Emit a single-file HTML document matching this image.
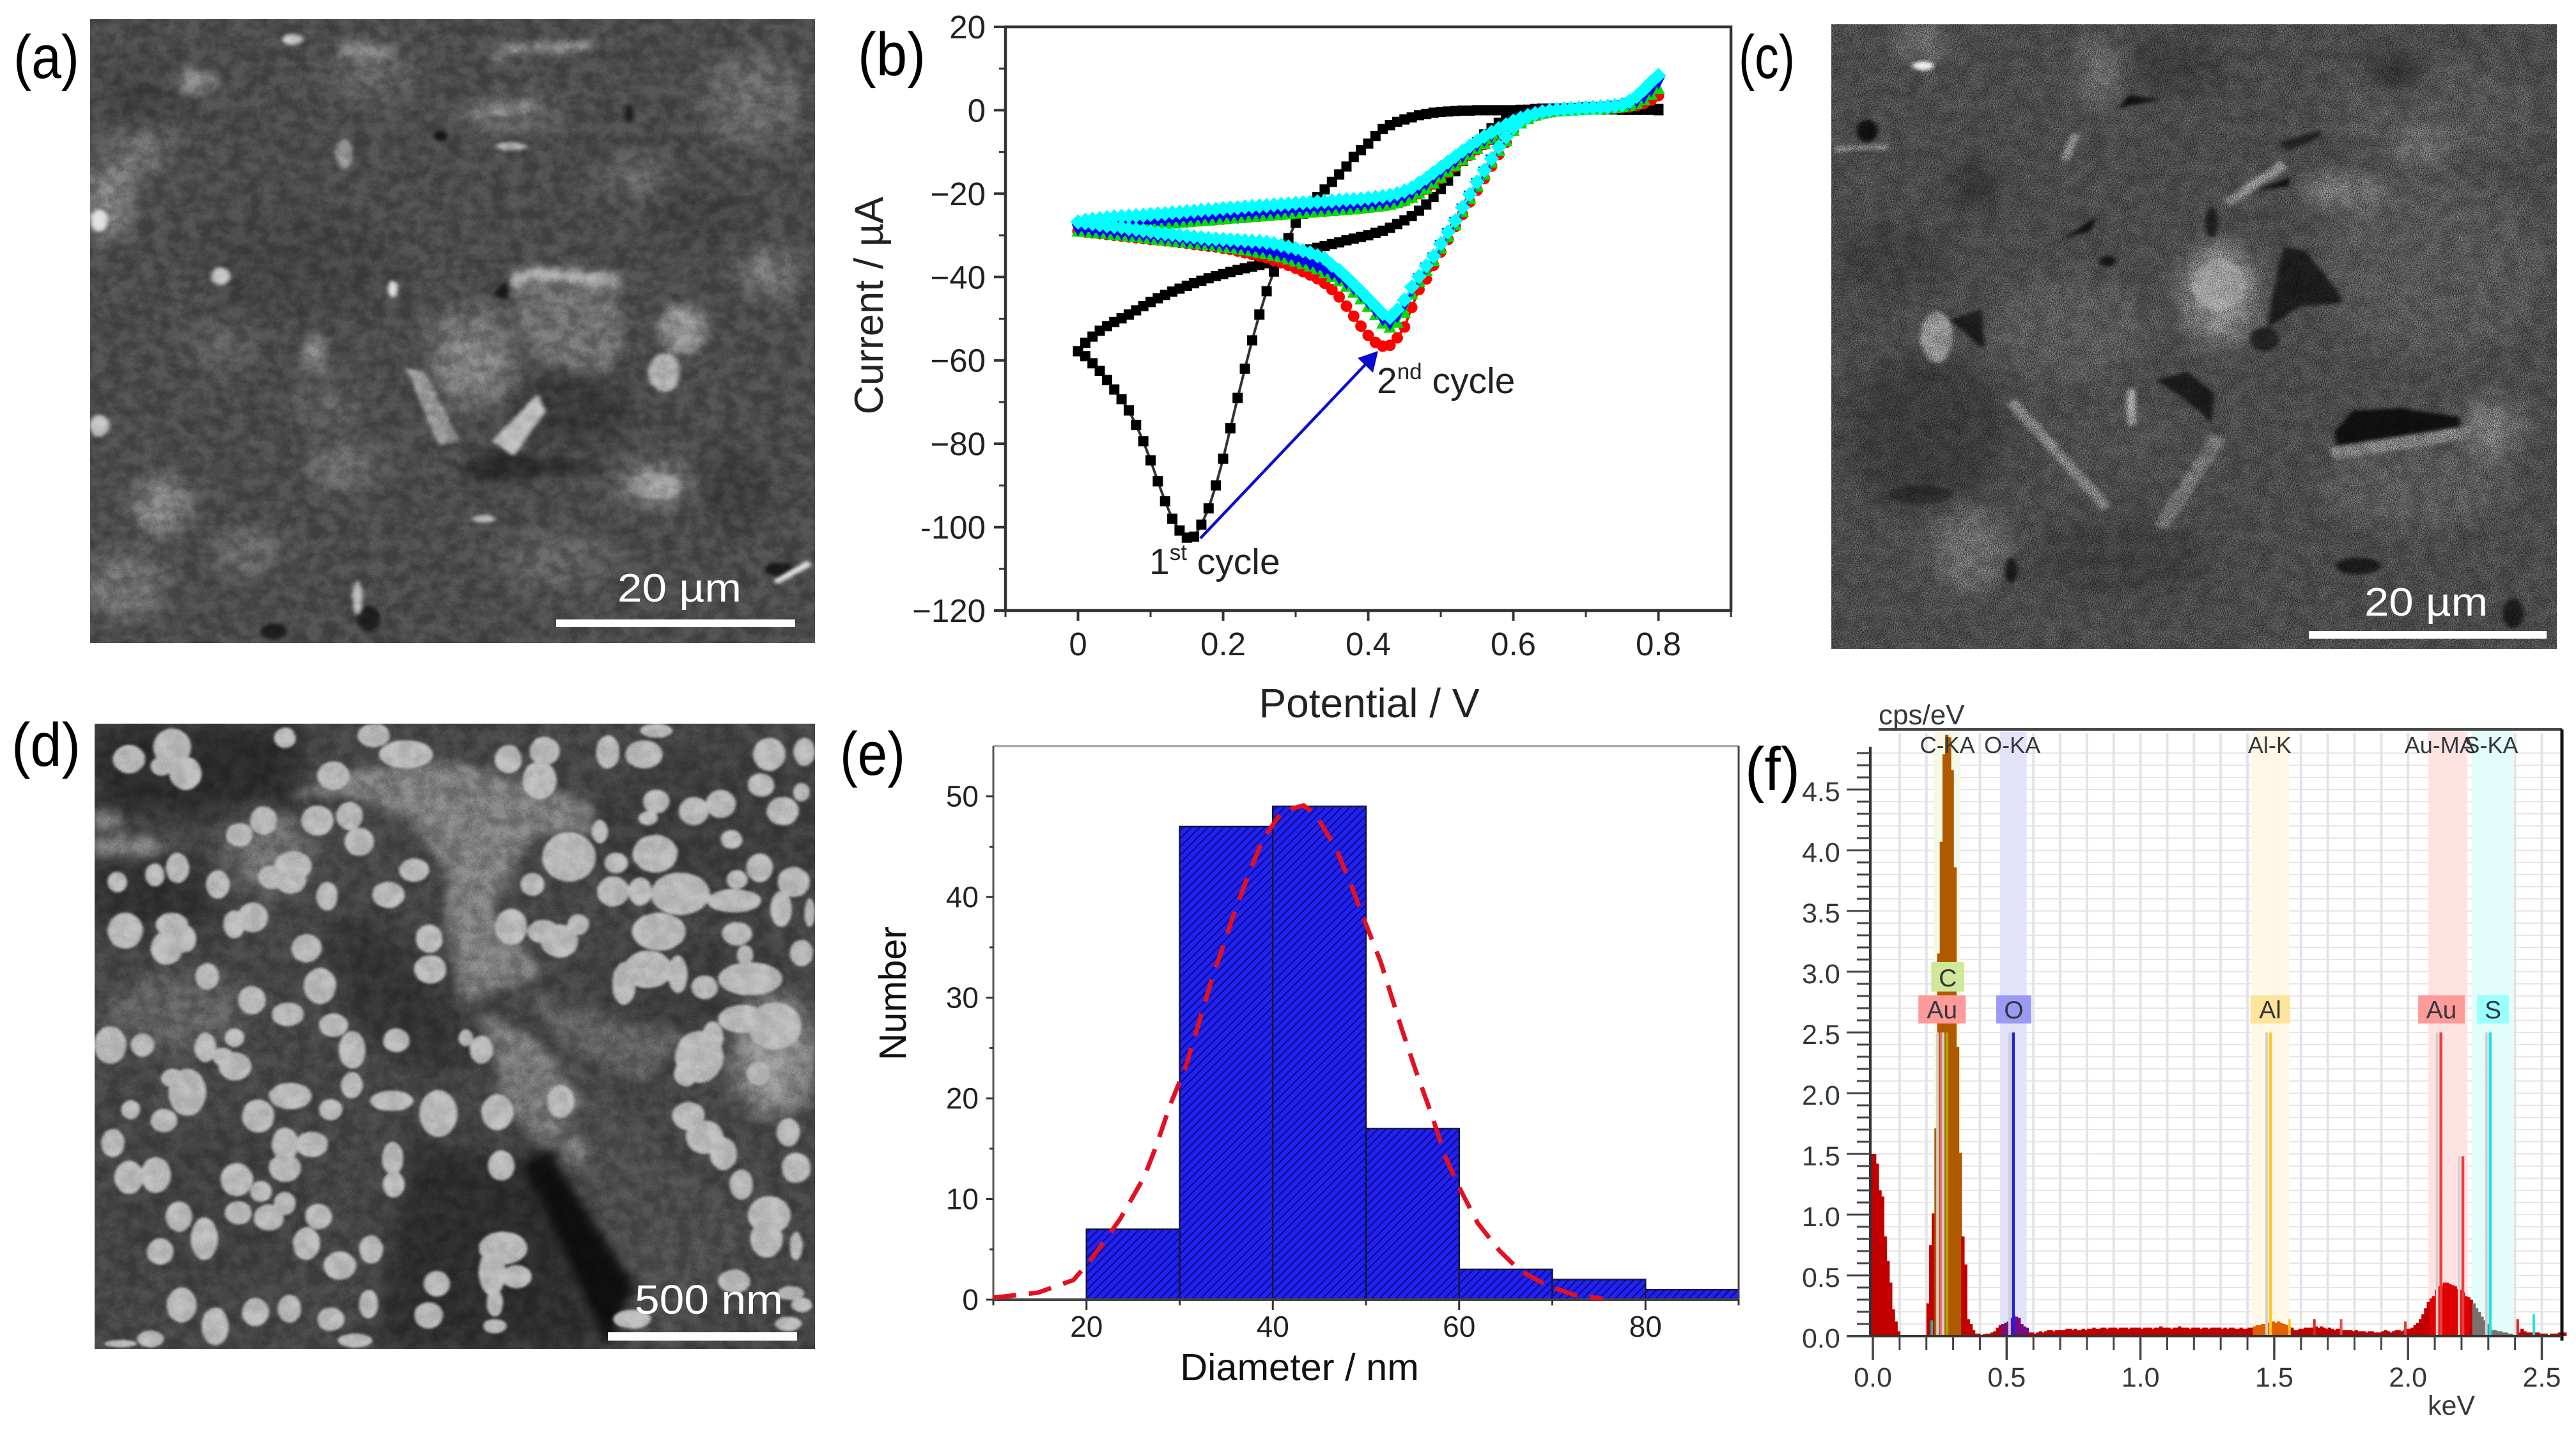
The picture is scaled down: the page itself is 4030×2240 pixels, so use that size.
<!DOCTYPE html>
<html lang="en">
<head>
<meta charset="utf-8">
<title>Electrode characterisation figure</title>
<style>
html,body{margin:0;padding:0;background:#fff;width:4030px;height:2240px;overflow:hidden}
svg text{font-family:"Liberation Sans",sans-serif}
</style>
</head>
<body>
<svg id="fig" xmlns="http://www.w3.org/2000/svg" width="4030" height="2240" viewBox="0 0 4030 2240">
<defs>
<filter id="blurBig" color-interpolation-filters="sRGB" x="-10%" y="-10%" width="120%" height="120%"><feGaussianBlur stdDeviation="24"/></filter>
<filter id="blurMid" color-interpolation-filters="sRGB" x="-10%" y="-10%" width="120%" height="120%"><feGaussianBlur stdDeviation="10"/></filter>
<filter id="blurDetail" color-interpolation-filters="sRGB" x="-10%" y="-10%" width="120%" height="120%"><feGaussianBlur stdDeviation="4"/></filter>
<filter id="blurSmall" color-interpolation-filters="sRGB" x="-10%" y="-10%" width="120%" height="120%"><feGaussianBlur stdDeviation="2.4"/></filter>
<filter id="noiseFine" color-interpolation-filters="sRGB" x="0" y="0" width="100%" height="100%"><feTurbulence type="fractalNoise" baseFrequency=".55" numOctaves="2" seed="4"/><feColorMatrix type="matrix" values="0 0 0 2.4 -.7 0 0 0 2.4 -.7 0 0 0 2.4 -.7 0 0 0 0 1"/></filter>
<filter id="noiseSoft" color-interpolation-filters="sRGB" x="0" y="0" width="100%" height="100%"><feTurbulence type="fractalNoise" baseFrequency=".035" numOctaves="4" seed="9"/><feColorMatrix type="matrix" values="0 0 0 2.4 -.7 0 0 0 2.4 -.7 0 0 0 2.4 -.7 0 0 0 0 1"/></filter>
<pattern id="hatch" width="9" height="9" patternUnits="userSpaceOnUse" patternTransform="rotate(45)">
<rect width="9" height="9" fill="#2222f2"/><rect width="2.4" height="9" fill="#0d0d95"/>
</pattern>
</defs>

<!-- (a) SEM -->
<svg id="semA" x="141" y="30" width="1134" height="976" viewBox="168 45 1347 1457" preserveAspectRatio="none">
<rect x="168" y="45" width="1347" height="1457" fill="#4a4a4a"/>
<g filter="url(#blurBig)">
<ellipse cx="1400" cy="230" rx="90" ry="105" fill="#666"/><ellipse cx="690" cy="170" rx="80" ry="80" fill="#5e5e5e"/>
<ellipse cx="260" cy="340" rx="55" ry="75" fill="#707070"/><ellipse cx="200" cy="470" rx="40" ry="90" fill="#848484"/>
<ellipse cx="230" cy="1370" rx="80" ry="80" fill="#6d6d6d"/><ellipse cx="300" cy="1180" rx="50" ry="65" fill="#8a8a8a"/>
<ellipse cx="1040" cy="1310" rx="110" ry="70" fill="#5e5e5e"/><ellipse cx="460" cy="1290" rx="65" ry="55" fill="#686868"/>
<ellipse cx="1060" cy="960" rx="120" ry="80" fill="#383838"/><ellipse cx="640" cy="1090" rx="70" ry="55" fill="#6a6a6a"/>
<ellipse cx="410" cy="810" rx="55" ry="55" fill="#606060"/><ellipse cx="1180" cy="410" rx="55" ry="45" fill="#686868"/>
<ellipse cx="1430" cy="640" rx="45" ry="55" fill="#7c7c7c"/><ellipse cx="610" cy="945" rx="55" ry="42" fill="#636363"/>
<ellipse cx="950" cy="265" rx="90" ry="40" fill="#696969"/><ellipse cx="1220" cy="1130" rx="70" ry="50" fill="#808080"/>
<ellipse cx="875" cy="770" rx="80" ry="50" fill="#6e6e6e"/><ellipse cx="880" cy="860" rx="75" ry="90" fill="#7e7e7e"/>
<ellipse cx="1360" cy="1140" rx="70" ry="90" fill="#3d3d3d"/><ellipse cx="560" cy="620" rx="180" ry="120" fill="#434343"/>
<ellipse cx="260" cy="240" rx="60" ry="70" fill="#3e3e3e"/><ellipse cx="1300" cy="500" rx="80" ry="70" fill="#414141"/>
</g>
<g filter="url(#blurMid)">
<polygon points="945,650 1000,625 1060,635 1150,645 1160,800 1130,870 1000,850 970,780" fill="#6d6d6d"/>
<polyline points="948,660 1000,635 1060,645 1150,655" fill="none" stroke="#b4b4b4" stroke-width="26"/>
<ellipse cx="1270" cy="770" rx="45" ry="60" fill="#8e8e8e"/>
<ellipse cx="585" cy="830" rx="25" ry="50" fill="#7c7c7c"/>
<polyline points="915,130 950,118 1100,108" fill="none" stroke="#909090" stroke-width="22"/>
<ellipse cx="680" cy="118" rx="45" ry="18" fill="#8c8c8c"/>
<polygon points="850,1100 900,1050 1140,1090 900,1130" fill="#2c2c2c"/>
<polyline points="870,265 960,260 995,245" fill="none" stroke="#8a8a8a" stroke-width="18"/>
<ellipse cx="365" cy="190" rx="42" ry="30" fill="#7d7d7d"/>
</g>
<g filter="url(#blurDetail)">
<polygon points="915,1030 1000,920 1015,960 955,1065" fill="#bcbcbc"/>
<polygon points="755,860 790,870 855,1030 815,1040" fill="#959595"/>
<ellipse cx="1235" cy="870" rx="30" ry="45" fill="#acacac"/>
<ellipse cx="1220" cy="1135" rx="50" ry="30" fill="#999"/>
<polygon points="915,690 945,650 945,700" fill="#1a1a1a"/>
<ellipse cx="510" cy="1475" rx="25" ry="18" fill="#1d1d1d"/><ellipse cx="685" cy="1445" rx="22" ry="30" fill="#1d1d1d"/>
<ellipse cx="1450" cy="1330" rx="28" ry="16" fill="#1b1b1b"/><ellipse cx="820" cy="318" rx="12" ry="12" fill="#161616"/>
<line x1="1440" y1="1360" x2="1505" y2="1315" stroke="#e4e4e4" stroke-width="12"/>
<ellipse cx="730" cy="675" rx="9" ry="20" fill="#ddd"/><ellipse cx="410" cy="645" rx="18" ry="20" fill="#c4c4c4"/>
<ellipse cx="185" cy="515" rx="16" ry="26" fill="#e0e0e0"/><ellipse cx="665" cy="1395" rx="9" ry="40" fill="#bbb"/>
<ellipse cx="545" cy="92" rx="20" ry="12" fill="#c4c4c4"/><ellipse cx="900" cy="1212" rx="22" ry="9" fill="#bbb"/>
<ellipse cx="185" cy="995" rx="18" ry="26" fill="#c0c0c0"/><ellipse cx="950" cy="342" rx="30" ry="10" fill="#a8a8a8"/>
<ellipse cx="1170" cy="265" rx="8" ry="22" fill="#1e1e1e"/><ellipse cx="640" cy="360" rx="16" ry="34" fill="#8f8f8f"/>
</g>
<rect x="168" y="45" width="1347" height="1457" fill="#808080" filter="url(#noiseSoft)" style="mix-blend-mode:overlay" opacity=".16"/>
<rect x="168" y="45" width="1347" height="1457" fill="#808080" filter="url(#noiseFine)" style="mix-blend-mode:overlay" opacity=".1"/>
</svg>

<!-- (c) SEM -->
<svg id="semC" x="2865" y="38" width="1135" height="977" viewBox="173 56 1359 1446" preserveAspectRatio="none">
<rect x="173" y="56" width="1359" height="1446" fill="#4a4a4a"/>
<g filter="url(#blurBig)">
<ellipse cx="350" cy="1000" rx="150" ry="180" fill="#3b3b3b"/><ellipse cx="800" cy="150" rx="110" ry="65" fill="#3d3d3d"/>
<ellipse cx="280" cy="600" rx="110" ry="85" fill="#3f3f3f"/><ellipse cx="720" cy="1290" rx="170" ry="90" fill="#3f3f3f"/>
<ellipse cx="1300" cy="620" rx="220" ry="210" fill="#555"/><ellipse cx="1270" cy="1130" rx="180" ry="90" fill="#585858"/>
<ellipse cx="1300" cy="250" rx="200" ry="110" fill="#535353"/><ellipse cx="620" cy="760" rx="150" ry="120" fill="#575757"/>
<ellipse cx="720" cy="1010" rx="130" ry="100" fill="#4d4d4d"/><ellipse cx="430" cy="1270" rx="70" ry="100" fill="#686868"/>
<ellipse cx="1130" cy="440" rx="80" ry="35" fill="#787878"/><ellipse cx="1280" cy="340" rx="50" ry="40" fill="#727272"/>
<ellipse cx="900" cy="680" rx="70" ry="120" fill="#848484"/><ellipse cx="680" cy="170" rx="40" ry="90" fill="#686868"/>
<ellipse cx="1410" cy="990" rx="55" ry="70" fill="#747474"/><ellipse cx="340" cy="100" rx="45" ry="50" fill="#6a6a6a"/>
<ellipse cx="1230" cy="170" rx="45" ry="40" fill="#2c2c2c"/><ellipse cx="440" cy="430" rx="40" ry="60" fill="#333"/>
</g>
<g filter="url(#blurDetail)">
<polygon points="1115,1000 1150,950 1240,945 1350,965 1350,990 1260,1005 1180,1030 1120,1030" fill="#0f0f0f"/>
<polygon points="1020,570 1060,580 1120,670 1130,700 1050,710 990,760 1000,680" fill="#1b1b1b"/>
<ellipse cx="985" cy="785" rx="28" ry="28" fill="#222"/>
<polygon points="780,880 840,860 890,910 885,980 860,950 820,910" fill="#1a1a1a"/>
<polygon points="395,740 455,715 460,810" fill="#1c1c1c"/>
<polygon points="710,250 730,220 790,230" fill="#111"/>
<ellipse cx="240" cy="303" rx="20" ry="26" fill="#111"/>
<polygon points="970,440 1030,410 1030,432" fill="#111"/>
<polygon points="610,550 670,500 660,535" fill="#111"/>
<polygon points="1010,330 1090,300 1090,315 1030,350" fill="#222"/>
<ellipse cx="1160" cy="1310" rx="42" ry="20" fill="#1a1a1a"/><ellipse cx="1450" cy="1420" rx="20" ry="34" fill="#1a1a1a"/>
<ellipse cx="510" cy="1320" rx="12" ry="30" fill="#1a1a1a"/><ellipse cx="340" cy="1145" rx="60" ry="22" fill="#2a2a2a"/>
<ellipse cx="885" cy="515" rx="12" ry="35" fill="#1d1d1d"/><ellipse cx="690" cy="605" rx="16" ry="12" fill="#141414"/>
<ellipse cx="345" cy="152" rx="20" ry="10" fill="#eee"/>
<ellipse cx="370" cy="780" rx="30" ry="60" fill="#909090"/>
<ellipse cx="900" cy="660" rx="50" ry="60" fill="#9c9c9c"/>
<line x1="510" y1="930" x2="690" y2="1175" stroke="#7e7e7e" stroke-width="22"/>
<line x1="790" y1="1220" x2="900" y2="1010" stroke="#707070" stroke-width="30"/>
<line x1="1110" y1="1050" x2="1370" y2="1000" stroke="#7e7e7e" stroke-width="30"/>
<line x1="915" y1="470" x2="1020" y2="380" stroke="#8c8c8c" stroke-width="20"/>
<line x1="735" y1="900" x2="735" y2="985" stroke="#a0a0a0" stroke-width="16"/>
<line x1="610" y1="370" x2="630" y2="310" stroke="#8a8a8a" stroke-width="16"/>
<line x1="180" y1="345" x2="280" y2="340" stroke="#808080" stroke-width="12"/>
</g>
<rect x="173" y="56" width="1359" height="1446" fill="#808080" filter="url(#noiseSoft)" style="mix-blend-mode:overlay" opacity=".1"/>
<rect x="173" y="56" width="1359" height="1446" fill="#808080" filter="url(#noiseFine)" style="mix-blend-mode:overlay" opacity=".5"/>
</svg>

<!-- (d) SEM -->
<svg id="semD" x="148" y="1132" width="1127" height="978" viewBox="176 70 1339 1323" preserveAspectRatio="none">
<rect x="176" y="70" width="1339" height="1323" fill="#444"/>
<g filter="url(#blurBig)">
<rect x="176" y="70" width="380" height="190" fill="#2b2b2b"/>
<rect x="176" y="360" width="220" height="140" fill="#2f2f2f"/>
<ellipse cx="1300" cy="620" rx="190" ry="100" fill="#3b3b3b"/><ellipse cx="1320" cy="300" rx="220" ry="170" fill="#3c3c3c"/>
<polygon points="610,500 690,470 850,660 880,800 760,800 640,680" fill="#333"/>
<polygon points="760,950 1000,1000 1120,1393 700,1393" fill="#2c2c2c"/>
<ellipse cx="1440" cy="770" rx="75" ry="130" fill="#909090"/>
<ellipse cx="500" cy="340" rx="80" ry="90" fill="#6e6e6e"/>
<ellipse cx="330" cy="680" rx="130" ry="80" fill="#606060"/>
<ellipse cx="400" cy="1100" rx="170" ry="170" fill="#404040"/>
</g>
<g filter="url(#blurMid)">
<polygon points="540,225 640,170 850,150 1000,200 1100,240 1100,300 1000,300 950,380 920,470 1010,600 860,660 830,500 830,380 760,270 640,220" fill="#7c7c7c"/>
<polygon points="880,660 1050,770 1390,1130 1250,1393 1120,1340 1020,970 940,830" fill="#4b4b4b"/>
<polygon points="900,680 1000,740 1080,870 1020,970 940,880" fill="#767676"/>
<polygon points="975,640 1280,730 1200,830 1060,760" fill="#5f5f5f"/>
<polygon points="970,1000 1020,970 1180,1260 1130,1393" fill="#0e0e0e"/>
<ellipse cx="240" cy="330" rx="70" ry="24" fill="#797979"/>
<ellipse cx="200" cy="275" rx="26" ry="18" fill="#8a8a8a"/>
<ellipse cx="1070" cy="975" rx="22" ry="30" fill="#7c7c7c"/>
</g>
<g id="particles" filter="url(#blurSmall)"></g>
<rect x="176" y="70" width="1339" height="1323" fill="#808080" filter="url(#noiseSoft)" style="mix-blend-mode:overlay" opacity=".14"/>
<rect x="176" y="70" width="1339" height="1323" fill="#808080" filter="url(#noiseFine)" style="mix-blend-mode:overlay" opacity=".12"/>
</svg>

<!-- SEM scale bars and labels -->
<rect x="870" y="969" width="374" height="12" fill="#fff"/>
<text x="966" y="941" font-size="62" fill="#fff" textLength="194" lengthAdjust="spacingAndGlyphs">20 µm</text>
<rect x="3612" y="987" width="372" height="12" fill="#fff"/>
<text x="3699" y="963" font-size="62" fill="#fff" textLength="193" lengthAdjust="spacingAndGlyphs">20 µm</text>
<rect x="951" y="2084" width="296" height="13" fill="#fff"/>
<text x="993" y="2055" font-size="64" fill="#fff" textLength="232" lengthAdjust="spacingAndGlyphs">500 nm</text>

<!-- panel letters -->
<text x="21" y="122" font-size="96" fill="#000" textLength="103" lengthAdjust="spacingAndGlyphs">(a)</text>
<text x="1342" y="118" font-size="96" fill="#000" textLength="106" lengthAdjust="spacingAndGlyphs">(b)</text>
<text x="2720" y="122" font-size="96" fill="#000" textLength="88" lengthAdjust="spacingAndGlyphs">(c)</text>
<text x="18" y="1198" font-size="96" fill="#000" textLength="108" lengthAdjust="spacingAndGlyphs">(d)</text>
<text x="1314" y="1212" font-size="96" fill="#000" textLength="102" lengthAdjust="spacingAndGlyphs">(e)</text>

<g id="chartB"></g>
<g id="chartE"></g>
<g id="chartF"></g>

<text x="2730" y="1236" font-size="96" fill="#000" textLength="86" lengthAdjust="spacingAndGlyphs">(f)</text>
</svg>

<script>
/* ---------- (b) cyclic voltammogram data: current in µA at each potential ---------- */
const potentials = [0,.01,.02,.03,.04,.05,.06,.07,.08,.09,.1,.11,.12,.13,.14,.15,.16,.17,.18,.19,.2,.21,.22,.23,.24,.25,.26,.27,.28,.29,.3,.31,.32,.33,.34,.35,.36,.37,.38,.39,.4,.41,.42,.43,.44,.45,.46,.47,.48,.49,.5,.51,.52,.53,.54,.55,.56,.57,.58,.59,.6,.61,.62,.63,.64,.65,.66,.67,.68,.69,.7,.71,.72,.73,.74,.75,.76,.77,.78,.79,.8];
const blackCathodic = [-57.8,-59,-60.7,-62.5,-64.7,-67,-69.3,-72,-75.5,-79.4,-84,-89,-93.8,-98,-100.8,-102.5,-102.3,-99.4,-95.5,-90,-83.6,-76.3,-69,-62,-55.2,-49,-43.4,-38.7,-34.4,-30.7,-27,-24.8,-22.9,-20.8,-19,-17.2,-15.4,-13.5,-11.2,-9.6,-8,-6.2,-4.5,-3.6,-2.8,-2.2,-1.7,-1.2,-.9,-.6,-.4,-.3,-.2,-.1,-.1,0,0,0,0,0,0,.1,.1,.1,.1,.1,.2,.2,.2,.2,.2,.2,.2,.2,.2,.1,.1,.1,.1,.1,0];
const blackAnodic = [-57.8,-55.8,-54.3,-52.9,-51.8,-50.8,-49.9,-49,-48,-47,-46,-45.1,-44.3,-43.5,-42.8,-42.1,-41.5,-40.9,-40.3,-39.8,-39.3,-38.8,-38.3,-37.9,-37.5,-37.1,-36.7,-36.2,-35.6,-35,-34.4,-33.9,-33.4,-33,-32.6,-32.1,-31.7,-31.2,-30.8,-30.4,-30,-29.4,-28.9,-28.2,-27.3,-26.4,-25.4,-24.1,-22.6,-20.8,-18.9,-16.9,-14.6,-12.2,-9.8,-7.6,-5.8,-4.3,-3,-1.9,-.9,-.3,.1,.3,.4,.4,.4,.4,.4,.4,.4,.4,.4,.4,.4,.3,.3,.3,.3,.3,.3];
const redCathodic = [-29,-29.2,-29.4,-29.6,-29.8,-30,-30.2,-30.4,-30.6,-30.8,-31,-31.1,-31.3,-31.5,-31.7,-31.9,-32.2,-32.4,-32.6,-32.8,-33.1,-33.4,-33.8,-34.2,-34.6,-35,-35.4,-36,-36.6,-37.2,-37.9,-38.7,-39.5,-40.4,-41.5,-43,-44.8,-47,-49.4,-51.8,-54,-55.7,-56.6,-56.4,-54.6,-52,-47.3,-43,-40.5,-37.2,-34,-31,-27.9,-25,-22,-19.2,-16.4,-13.4,-10.6,-7.7,-4.8,-2.8,-1.6,-1,-.6,-.3,-.1,.1,.2,.3,.4,.4,.5,.6,.7,.9,1,1.3,1.8,2.6,3.5];
const redAnodic = [-29,-28.7,-28.5,-28.4,-28.2,-28.1,-28,-27.8,-27.7,-27.6,-27.4,-27.3,-27.2,-27,-26.9,-26.8,-26.6,-26.5,-26.3,-26.2,-26.1,-25.9,-25.8,-25.7,-25.5,-25.4,-25.2,-25.1,-25,-24.8,-24.7,-24.6,-24.4,-24.3,-24.2,-24,-23.9,-23.8,-23.6,-23.5,-23.3,-23.1,-22.9,-22.6,-22.2,-21.7,-21,-20,-18.9,-17.7,-16.3,-14.9,-13.5,-12.1,-10.8,-9.4,-8.2,-7,-5.9,-4.9,-3.9,-2.9,-2,-1.3,-.8,-.5,-.2,0,.1,.2,.3,.3,.4,.4,.5,.6,.8,1.1,1.6,2.4,3.5];
const greenCathodic = [-28.9,-29,-29.2,-29.4,-29.5,-29.7,-29.9,-30.1,-30.3,-30.5,-30.7,-30.9,-31.1,-31.3,-31.5,-31.6,-31.8,-32,-32.2,-32.4,-32.7,-32.9,-33.2,-33.4,-33.7,-34,-34.3,-34.7,-35.1,-35.6,-36.1,-36.7,-37.3,-38,-38.9,-39.8,-40.9,-42.2,-43.6,-45.2,-47,-49,-51,-52,-50.8,-48.4,-44,-41,-38.4,-36,-33,-30.2,-27.4,-24.2,-21.1,-18.1,-15.3,-12.4,-9.6,-7.2,-4.8,-3,-1.9,-1.1,-.6,-.3,-.1,0,.1,.2,.3,.4,.5,.6,.7,.9,1.2,1.7,2.6,3.9,5.3];
const greenAnodic = [-28.9,-28.6,-28.3,-28.2,-28.1,-27.9,-27.8,-27.7,-27.6,-27.5,-27.3,-27.2,-27.1,-27,-26.8,-26.7,-26.5,-26.4,-26.3,-26.1,-26,-25.8,-25.7,-25.6,-25.4,-25.3,-25.2,-25,-24.9,-24.8,-24.6,-24.5,-24.4,-24.2,-24.1,-24,-23.8,-23.7,-23.6,-23.4,-23.2,-23,-22.8,-22.5,-22.1,-21.5,-20.8,-19.8,-18.7,-17.4,-16,-14.6,-13.2,-11.8,-10.5,-9.1,-7.9,-6.7,-5.6,-4.6,-3.6,-2.6,-1.8,-1.1,-.6,-.3,-.1,.1,.2,.3,.4,.4,.5,.6,.7,.9,1.2,1.8,2.7,3.9,5.3];
const blueCathodic = [-28.7,-28.8,-29,-29.2,-29.3,-29.5,-29.7,-29.9,-30.1,-30.3,-30.5,-30.7,-30.9,-31.1,-31.3,-31.5,-31.7,-31.9,-32.1,-32.3,-32.5,-32.7,-33,-33.2,-33.5,-33.7,-34,-34.4,-34.8,-35.3,-35.8,-36.4,-37,-37.7,-38.5,-39.4,-40.4,-41.6,-43,-44.6,-46.4,-48.4,-50.4,-51.4,-49.6,-46.8,-43.3,-40.5,-37.9,-35.5,-32.5,-29.7,-27,-23.8,-20.7,-17.7,-14.9,-12,-9.2,-6.8,-4.5,-2.8,-1.7,-1,-.5,-.2,0,.1,.2,.3,.4,.5,.6,.7,.8,1,1.4,2,3,4.6,6.5];
const blueAnodic = [-28.7,-28.3,-28,-27.9,-27.8,-27.6,-27.5,-27.4,-27.2,-27.1,-27,-26.8,-26.7,-26.5,-26.4,-26.2,-26.1,-25.9,-25.8,-25.7,-25.5,-25.4,-25.3,-25.1,-25,-24.8,-24.7,-24.6,-24.4,-24.3,-24.2,-24,-23.9,-23.8,-23.7,-23.5,-23.4,-23.3,-23.1,-23,-22.8,-22.6,-22.4,-22.1,-21.7,-21,-20.2,-19.1,-17.9,-16.6,-15.2,-13.8,-12.5,-11.2,-9.9,-8.6,-7.4,-6.3,-5.3,-4.3,-3.3,-2.4,-1.6,-1,-.5,-.2,0,.2,.3,.4,.5,.6,.6,.7,.9,1.1,1.6,2.3,3.4,4.8,6.5];
const cyanCathodic = [-26.8,-27,-27.2,-27.5,-27.7,-27.9,-28.1,-28.4,-28.6,-28.9,-29.1,-29.4,-29.6,-29.8,-30,-30.2,-30.4,-30.6,-30.8,-30.9,-31,-31.1,-31.2,-31.3,-31.4,-31.5,-31.7,-32,-32.4,-32.8,-33.2,-33.7,-34.2,-34.9,-35.6,-37.2,-38.4,-40,-41.7,-43.4,-45.2,-47,-48.8,-49.7,-47.9,-45.5,-42.4,-39.9,-37.3,-35,-32,-29.2,-26.5,-23.3,-20.2,-17.2,-14.4,-11.6,-8.8,-6.4,-4.2,-2.6,-1.6,-.9,-.4,-.1,.1,.2,.3,.4,.5,.6,.7,.8,1,1.3,2.1,3.3,4.9,6.7,8.3];
const cyanAnodic = [-26.8,-26.4,-26.2,-26,-25.8,-25.6,-25.5,-25.4,-25.3,-25.2,-25,-24.9,-24.8,-24.6,-24.5,-24.3,-24.2,-24,-23.9,-23.8,-23.6,-23.5,-23.4,-23.2,-23.1,-23,-22.9,-22.7,-22.6,-22.5,-22.3,-22.2,-22.1,-22,-21.9,-21.8,-21.6,-21.5,-21.4,-21.3,-21.1,-20.9,-20.7,-20.4,-20,-19.4,-18.6,-17.5,-16.3,-15,-13.7,-12.4,-11.1,-9.8,-8.6,-7.4,-6.3,-5.3,-4.4,-3.5,-2.6,-1.9,-1.3,-.8,-.4,-.1,.1,.3,.4,.5,.6,.7,.8,.9,1.1,1.4,2.2,3.4,5,6.8,8.3];
const currentTicks = [20,0,-20,-40,-60,-80,-100,-120];
const currentTickLabels = ['20','0','−20','−40','−60','−80','-100','−120'];
const currentMinorTicks = [10,-10,-30,-50,-70,-90,-110];
const potentialTicks = [0,.2,.4,.6,.8];
const potentialTickLabels = ['0','0.2','0.4','0.6','0.8'];
const potentialMinorTicks = [-.1,.1,.3,.5,.7,.9];

/* ---------- (e) histogram data ---------- */
const binEdges = [20,30,40,50,60,70,80,90];
const binCounts = [7,47,49,17,3,2,1];
const fitDiameters = [10,11,14.8,18.6,20.5,23.6,26.2,27.5,29,30.6,31.9,33.5,34.4,35.7,37.3,38.9,41,43.3,44.6,46.8,48.4,49.7,51.6,53.8,55.4,57,58.6,60.2,62,64.3,66.5,69.7,72.5,75.4];
const fitCounts = [.2,.3,.7,1.95,4,8,12.2,15.3,19.4,23,27,32,34.4,38,42,45.7,48.5,49.1,48.2,44.8,41.2,38,33.5,27,22.6,18.5,14,10.8,7.6,4.9,2.9,1.3,.45,.1];
const numberTicks = [0,10,20,30,40,50];
const numberMinorTicks = [5,15,25,35,45];
const diameterTicks = [20,40,60,80];
const diameterMinorTicks = [10,30,50,70,90];

/* ---------- (f) EDS spectrum data: cps/eV per 0.01 keV bin, first bin at -0.01 keV ---------- */
const spectrumStart = -0.01;
const spectrumBinWidth = 0.01;
const spectrumCounts = [
1.5,1.5,1.42,1.2,1.15,.82,.62,.44,.22,.12,
.04,.01,0,0,0,0,0,0,0,0,
.01,.27,.75,1.01,1.71,3.15,4.07,4.79,4.95,4.93,
4.66,3.86,2.38,1.51,.82,.59,.14,.1,.05,.02,
.02,.01,.015,.02,.02,.03,.04,.07,.09,.1,
.11,.12,.15,.17,.16,.15,.1,.08,.07,.03,
.03,.02,.03,.04,.03,.04,.05,.05,.04,.05,
.05,.05,.05,.06,.06,.05,.06,.05,.05,.06,
.05,.06,.06,.07,.06,.06,.07,.07,.06,.07,
.07,.07,.06,.07,.07,.07,.06,.07,.07,.07,
.07,.06,.07,.07,.07,.06,.07,.07,.08,.07,
.07,.07,.06,.07,.07,.08,.07,.07,.07,.06,
.07,.07,.07,.06,.07,.07,.06,.07,.07,.07,
.07,.06,.07,.06,.07,.07,.06,.06,.07,.06,
.06,.07,.07,.08,.09,.09,.1,.1,.11,.12,
.12,.11,.12,.11,.1,.09,.08,.07,.05,.05,
.06,.06,.07,.07,.07,.07,.08,.07,.08,.07,
.06,.07,.06,.05,.06,.06,.05,.05,.05,.05,
.04,.05,.04,.04,.04,.03,.04,.04,.03,.03,
.03,.04,.05,.04,.03,.04,.05,.05,.04,.05,
.06,.06,.07,.09,.11,.14,.18,.23,.28,.31,
.33,.38,.41,.42,.44,.44,.43,.42,.41,.39,
.38,.36,.33,.32,.3,.27,.23,.2,.16,.13,
.1,.07,.05,.05,.04,.04,.03,.03,.02,.02,
.01,.01,.03,.06,.04,.03,.03,.03,.03,.03,
.02,.02,.02,.01,.02,.02,.02,.03,.02,.03];
const edsBandNames = ['carbon','oxygen','aluminium','gold','sulfur'];
const edsBandStart = [.227,.475,1.417,2.076,2.238];
const edsBandEnd = [.327,.575,1.556,2.222,2.393];
const edsBandFill = ['#f3f8e4','#e1e1fb','#fff8e6','#ffe1e1','#e1fdfb'];
const edsBandBar = ['#b05a00','#7a0a80','#e06000','#e00000','#7c706c'];
const edsTopLabels = ['C-KA','O-KA','Al-K','Au-MA','S-KA'];
const edsTopLabelKeV = [.176,.416,1.402,1.987,2.211];
const edsTagLabels = ['C','Au','O','Al','Au','S'];
const edsTagKeV = [.218,.170,.461,1.411,2.038,2.258];
const edsTagWidthKeV = [.124,.177,.131,.148,.174,.119];
const edsTagFill = ['#cfe89a','#ff9a9a','#9a9af5','#fde49a','#ff9a9a','#9affff'];
const edsTagRow = [0,1,1,1,1,1];
const edsLineKeV = [.256,.277,.525,1.486,2.123,2.205,2.307];
const edsLineHeight = [2.5,2.5,2.5,2.5,2.5,1.48,2.5];
const edsLineColor = ['#f06a6a','#b0a000','#2020e0','#ffc820','#f03c3c','#f03c3c','#20e0e8'];
const edsSpikeKeV = [.22,1.557,1.65,1.75,1.99,2.41,2.47];
const edsSpikeHeight = [.13,.14,.14,.14,.12,.14,.18];
const edsSpikeColor = ['#28b0a0','#ffc820','#e02020','#e05050','#e04040','#e02020','#20e0e8'];
const cpsTicks = [0,.5,1,1.5,2,2.5,3,3.5,4,4.5];
const cpsTickLabels = ['0.0','0.5','1.0','1.5','2.0','2.5','3.0','3.5','4.0','4.5'];
const cpsMinorTicks = [.1,.2,.3,.4,.6,.7,.8,.9,1.1,1.2,1.3,1.4,1.6,1.7,1.8,1.9,2.1,2.2,2.3,2.4,2.6,2.7,2.8,2.9,3.1,3.2,3.3,3.4,3.6,3.7,3.8,3.9,4.1,4.2,4.3,4.4,4.6,4.7,4.8];
const keVTicks = [0,.5,1,1.5,2,2.5];
const keVTickLabels = ['0.0','0.5','1.0','1.5','2.0','2.5'];
const keVMinorTicks = [.1,.2,.3,.4,.6,.7,.8,.9,1.1,1.2,1.3,1.4,1.6,1.7,1.8,1.9,2.1,2.2,2.3,2.4];

const particleBlobs = [[240,145,30,30],[320,120,35,40],[345,175,30,35],[300,160,20,20],[530,100,20,22],[695,95,30,25],[755,135,50,30],[620,180,30,30],[1012,128,28,30],[1003,190,32,40],[945,145,25,30],[1130,130,22,35],[1197,135,35,30],[1220,85,30,15],[1430,135,30,35],[1495,130,20,30],[1415,200,25,25],[1290,255,28,30],[1340,240,28,30],[1220,235,25,25],[1455,255,30,30],[1490,215,15,20],[1205,270,18,15],[590,275,30,32],[650,265,25,30],[668,320,27,30],[490,275,25,30],[445,305,25,25],[545,370,35,30],[505,395,25,25],[540,400,30,30],[330,375,22,32],[288,390,18,25],[218,405,18,22],[405,410,22,30],[608,435,20,30],[722,432,30,28],[770,380,28,25],[470,480,28,32],[435,495,20,30],[233,508,33,38],[320,495,30,25],[310,545,30,35],[340,525,25,30],[570,545,28,30],[798,525,25,30],[800,590,30,30],[385,605,22,28],[595,625,30,38],[468,655,26,30],[535,685,30,25],[620,708,27,25],[737,740,25,25],[655,760,25,40],[205,750,30,40],[265,750,22,25],[382,755,20,32],[436,735,18,20],[437,795,30,30],[415,775,20,20],[895,760,22,30],[866,735,14,18],[1058,352,50,52],[990,410,22,25],[1145,365,22,22],[1218,345,42,40],[1115,298,15,25],[1360,315,20,20],[1140,425,30,32],[1190,425,22,30],[1265,430,55,45],[1365,445,50,25],[1412,375,25,30],[1475,405,30,32],[1370,400,20,20],[1452,462,20,38],[1505,470,10,30],[950,500,30,38],[1010,510,30,25],[1040,530,35,35],[1075,495,20,22],[1225,510,50,40],[1370,515,28,25],[1490,555,22,28],[1385,560,15,22],[1205,590,45,40],[1160,620,22,45],[1260,600,18,40],[1310,628,25,25],[1395,610,60,35],[1380,695,45,30],[1440,710,50,50],[1325,735,20,35],[1300,775,45,55],[1275,810,22,28],[1410,810,22,25],[1280,900,30,30],[1310,945,35,35],[1345,980,25,35],[1378,1045,22,32],[1465,935,22,30],[1480,1010,27,32],[1430,1110,40,40],[1425,1160,30,40],[1480,1175,12,30],[654,835,20,28],[348,850,35,50],[320,820,20,20],[540,858,40,28],[615,887,22,22],[480,900,30,35],[728,868,40,22],[815,895,35,50],[925,892,30,38],[1042,870,25,35],[243,887,18,20],[305,910,25,25],[210,957,22,30],[530,960,25,35],[580,960,30,27],[530,1010,30,30],[730,990,20,35],[732,1045,20,28],[932,1005,25,32],[240,1030,27,35],[290,1025,28,38],[440,1035,30,35],[485,1060,20,22],[333,1113,25,32],[443,1105,25,25],[500,1115,28,28],[530,1085,20,25],[592,1113,25,27],[380,1160,25,45],[570,1170,25,35],[690,1182,22,30],[632,1217,30,30],[298,1187,25,28],[935,1180,45,35],[915,1230,25,50],[960,1240,28,25],[920,1295,15,30],[812,1255,25,27],[338,1300,28,37],[475,1315,25,30],[538,1308,22,30],[615,1330,25,25],[685,1298,18,30],[797,1322,27,28],[400,1345,25,40],[660,1375,32,15],[280,1372,25,18],[920,1345,22,15],[225,1382,30,8],[1175,1330,35,20],[1365,1250,30,25],[1470,1275,25,15],[1490,1300,20,15],[1465,1340,25,15]];

const NS = 'http://www.w3.org/2000/svg';
function mk(parent, tag, attrs, txt) {
  const e = document.createElementNS(NS, tag);
  for (const k in attrs) e.setAttribute(k, attrs[k]);
  if (txt !== undefined) e.textContent = txt;
  parent.appendChild(e);
  return e;
}

/* particles */
const particleLayer = document.getElementById('particles');
particleBlobs.forEach(function (b) {
  const el = mk(particleLayer, 'ellipse', {cx: b[0], cy: b[1], rx: b[2], ry: b[3], fill: '#b8b8b8'});
  
  
});

/* ---------- chart b ---------- */
(function () {
  const g = document.getElementById('chartB');
  const L = 1573, R = 2708, T = 42, B = 955;
  const x = function (v) { return L + (v + .1) / 1.0 * (R - L); };
  const y = function (v) { return T + (20 - v) / 140 * (B - T); };
  const axisColor = '#333';
  let el;
  el = mk(g, 'rect', {x: L, y: T, width: R - L, height: B - T, fill: 'none', stroke: axisColor, 'stroke-width': 4.5});
  
  
  currentTicks.forEach(function (v, i) {
    const t = mk(g, 'line', {x1: L - 18, x2: L, y1: y(v), y2: y(v), stroke: axisColor, 'stroke-width': 4});
    
    
    const lab = mk(g, 'text', {x: 1542, y: y(v) + 18, 'font-size': 51, 'text-anchor': 'end', fill: '#222'}, currentTickLabels[i]);
    
    
  });
  currentMinorTicks.forEach(function (v) {
    const t = mk(g, 'line', {x1: L - 10, x2: L, y1: y(v), y2: y(v), stroke: axisColor, 'stroke-width': 3});
    
    
  });
  potentialTicks.forEach(function (v, i) {
    const t = mk(g, 'line', {x1: x(v), x2: x(v), y1: B, y2: B + 16, stroke: axisColor, 'stroke-width': 4});
    
    
    const lab = mk(g, 'text', {x: x(v), y: 1025, 'font-size': 51, 'text-anchor': 'middle', fill: '#222'}, potentialTickLabels[i]);
    
    
  });
  potentialMinorTicks.forEach(function (v) {
    const t = mk(g, 'line', {x1: x(v), x2: x(v), y1: B, y2: B + 10, stroke: axisColor, 'stroke-width': 3});
    
    
  });
  el = mk(g, 'text', {transform: 'translate(1381,478) rotate(-90)', 'font-size': 63, 'text-anchor': 'middle', fill: '#222'}, 'Current / µA');
  
  
  el = mk(g, 'text', {x: 2142, y: 1122, 'font-size': 64, 'text-anchor': 'middle', fill: '#222'}, 'Potential / V');
  
  

  function marker(parent, shape, cx, cy, color) {
    let m;
    if (shape === 'square') m = mk(parent, 'rect', {x: cx - 8, y: cy - 8, width: 16, height: 16, fill: color});
    else if (shape === 'circle') m = mk(parent, 'circle', {cx: cx, cy: cy, r: 9, fill: color});
    else if (shape === 'up') m = mk(parent, 'polygon', {points: (cx - 10) + ',' + (cy + 9) + ' ' + (cx + 10) + ',' + (cy + 9) + ' ' + cx + ',' + (cy - 10), fill: color});
    else if (shape === 'down') m = mk(parent, 'polygon', {points: (cx - 10) + ',' + (cy - 9) + ' ' + (cx + 10) + ',' + (cy - 9) + ' ' + cx + ',' + (cy + 10), fill: color});
    else m = mk(parent, 'polygon', {points: (cx - 12) + ',' + cy + ' ' + cx + ',' + (cy - 12) + ' ' + (cx + 12) + ',' + cy + ' ' + cx + ',' + (cy + 12), fill: color});
    return m;
  }
  function drawSeries(name, shape, color, cathodic, anodic) {
    const s = mk(g, 'g', {});
    
    
    let pts = '';
    for (let i = potentials.length - 1; i >= 0; i--) pts += x(potentials[i]) + ',' + y(cathodic[i]) + ' ';
    for (let i = 0; i < potentials.length; i++) pts += x(potentials[i]) + ',' + y(anodic[i]) + ' ';
    const line = mk(s, 'polyline', {points: pts, fill: 'none', stroke: color === '#000' ? '#333' : color, 'stroke-width': 4});
    
    
    potentials.forEach(function (p, i) {
      const a = marker(s, shape, x(p), y(cathodic[i]), color);
      
      
      const b = marker(s, shape, x(p), y(anodic[i]), color);
      
      
    });
  }
  drawSeries('series-cycle-1', 'square', '#000', blackCathodic, blackAnodic);
  drawSeries('series-cycle-2', 'circle', '#ff0000', redCathodic, redAnodic);
  drawSeries('series-cycle-3', 'up', '#00e000', greenCathodic, greenAnodic);
  drawSeries('series-cycle-4', 'down', '#0000ff', blueCathodic, blueAnodic);
  drawSeries('series-cycle-5', 'diamond', '#00ffff', cyanCathodic, cyanAnodic);

  el = mk(g, 'line', {x1: 1878, y1: 842, x2: 2140, y2: 566, stroke: '#0a0ad0', 'stroke-width': 4.5});
  
  
  el = mk(g, 'polygon', {points: '2156,549 2148,583 2124,560', fill: '#0a0ad0'});
  
  

  el = mk(g, 'text', {x: 1798, y: 898, 'font-size': 57, fill: '#222'});
  
  
  mk(el, 'tspan', {}, '1');
  mk(el, 'tspan', {'font-size': 35, dy: -22}, 'st');
  mk(el, 'tspan', {dy: 22}, ' cycle');
  el = mk(g, 'text', {x: 2154, y: 615, 'font-size': 57, fill: '#222'});
  
  
  mk(el, 'tspan', {}, '2');
  mk(el, 'tspan', {'font-size': 35, dy: -22}, 'nd');
  mk(el, 'tspan', {dy: 22}, ' cycle');
})();

/* ---------- chart e ---------- */
(function () {
  const g = document.getElementById('chartE');
  const L = 1554, R = 2720, T = 1167, B = 2033;
  const x = function (v) { return L + (v - 10) / 80 * (R - L); };
  const y = function (v) { return B - v / 55 * (B - T); };
  let el;
  binCounts.forEach(function (c, i) {
    const b = mk(g, 'rect', {x: x(binEdges[i]), y: y(c), width: x(binEdges[i + 1]) - x(binEdges[i]), height: B - y(c), fill: 'url(#hatch)', stroke: '#15153c', 'stroke-width': 2.5});
    
    
  });
  el = mk(g, 'line', {x1: L, x2: R, y1: T, y2: T, stroke: '#aaa', 'stroke-width': 4});
  
  
  el = mk(g, 'line', {x1: L, x2: L, y1: T, y2: B, stroke: '#555', 'stroke-width': 3});
  
  
  el = mk(g, 'line', {x1: R, x2: R, y1: T, y2: B, stroke: '#444', 'stroke-width': 3});
  
  
  el = mk(g, 'line', {x1: L, x2: R, y1: B, y2: B, stroke: '#444', 'stroke-width': 4});
  
  
  numberTicks.forEach(function (v) {
    const t = mk(g, 'line', {x1: L - 11, x2: L, y1: y(v), y2: y(v), stroke: '#333', 'stroke-width': 3});
    
    
    const lab = mk(g, 'text', {x: 1531, y: y(v) + 16, 'font-size': 46, 'text-anchor': 'end', fill: '#222'}, String(v));
    
    
  });
  numberMinorTicks.forEach(function (v) {
    const t = mk(g, 'line', {x1: L - 6, x2: L, y1: y(v), y2: y(v), stroke: '#333', 'stroke-width': 3});
    
    
  });
  diameterTicks.forEach(function (v) {
    const t = mk(g, 'line', {x1: x(v), x2: x(v), y1: B, y2: B + 16, stroke: '#333', 'stroke-width': 3});
    
    
    const lab = mk(g, 'text', {x: x(v), y: 2091, 'font-size': 46, 'text-anchor': 'middle', fill: '#222'}, String(v));
    
    
  });
  diameterMinorTicks.forEach(function (v) {
    const t = mk(g, 'line', {x1: x(v), x2: x(v), y1: B, y2: B + 9, stroke: '#333', 'stroke-width': 3});
    
    
  });
  let pts = '';
  fitDiameters.forEach(function (d, i) { pts += x(d) + ',' + y(fitCounts[i]) + ' '; });
  el = mk(g, 'polyline', {points: pts, fill: 'none', stroke: '#e31020', 'stroke-width': 7, 'stroke-dasharray': '36 20'});
  
  
  el = mk(g, 'text', {x: 2033, y: 2159, 'font-size': 59.5, 'text-anchor': 'middle', fill: '#111'}, 'Diameter / nm');
  
  
  el = mk(g, 'text', {transform: 'translate(1417,1554) rotate(-90)', 'font-size': 59, 'text-anchor': 'middle', fill: '#111'}, 'Number');
  
  
})();

/* ---------- chart f ---------- */
(function () {
  const g = document.getElementById('chartF');
  const X0 = 2930, PX = 418.6, Y0 = 2090, PY = 190;
  const L = 2926, R = 4008, T = 1141;
  const x = function (v) { return X0 + v * PX; };
  const y = function (v) { return Y0 - v * PY; };
  const text = '#33383c';
  let el;
  cpsTicks.concat(cpsMinorTicks).forEach(function (v) {
    if (v === 0) return;
    const t = mk(g, 'line', {x1: L, x2: R, y1: y(v), y2: y(v), stroke: '#e6e6e6', 'stroke-width': 2});
    
    
  });
  keVTicks.concat(keVMinorTicks).forEach(function (v) {
    if (v === 0) return;
    const t = mk(g, 'line', {x1: x(v), x2: x(v), y1: T + 6, y2: Y0, stroke: '#e4e4e4', 'stroke-width': 4});
    
    
  });
  edsBandStart.forEach(function (s, i) {
    const b = mk(g, 'rect', {x: x(s), y: T + 4, width: x(edsBandEnd[i]) - x(s), height: Y0 - T - 4, fill: edsBandFill[i], opacity: .94});
    
    
  });
  function barColor(e) {
    for (let k = 0; k < edsBandStart.length; k++) {
      if (e >= edsBandStart[k] - .004 && e < edsBandEnd[k]) return edsBandBar[k];
    }
    return '#c20000';
  }
  spectrumCounts.forEach(function (c, i) {
    const e = spectrumStart + i * spectrumBinWidth;
    const col = barColor(e);
    const b = mk(g, 'rect', {x: x(e), y: y(c), width: spectrumBinWidth * PX + 1.2, height: Y0 - y(c), fill: col});
    
    
  });
  edsLineKeV.forEach(function (e, i) {
    const gray = mk(g, 'line', {x1: x(e) - 6, x2: x(e) - 6, y1: y(edsLineHeight[i]), y2: Y0, stroke: '#cfcfcf', 'stroke-width': 4});
    
    
    const l = mk(g, 'line', {x1: x(e), x2: x(e), y1: y(edsLineHeight[i]), y2: Y0, stroke: edsLineColor[i], 'stroke-width': 4.5});
    
    
  });
  edsSpikeKeV.forEach(function (e, i) {
    const l = mk(g, 'line', {x1: x(e), x2: x(e), y1: y(edsSpikeHeight[i]), y2: Y0, stroke: edsSpikeColor[i], 'stroke-width': 4});
    
    
  });
  edsTagLabels.forEach(function (lab, i) {
    const tagY = edsTagRow[i] === 0 ? 1505 : 1557;
    const tagH = edsTagRow[i] === 0 ? 46 : 44;
    const b = mk(g, 'rect', {x: x(edsTagKeV[i]), y: tagY, width: edsTagWidthKeV[i] * PX, height: tagH, fill: edsTagFill[i]});
    
    
    const t = mk(g, 'text', {x: x(edsTagKeV[i] + edsTagWidthKeV[i] / 2), y: tagY + tagH - 8, 'font-size': 39, 'text-anchor': 'middle', fill: text}, lab);
    
    
  });
  edsTopLabels.forEach(function (lab, i) {
    const t = mk(g, 'text', {x: x(edsTopLabelKeV[i]), y: 1178, 'font-size': 36, fill: text}, lab);
    
    
  });
  el = mk(g, 'line', {x1: 2939, x2: R, y1: T, y2: T, stroke: '#444', 'stroke-width': 4});
  
  
  el = mk(g, 'line', {x1: R, x2: R, y1: T, y2: 2097, stroke: '#111', 'stroke-width': 5});
  
  
  el = mk(g, 'line', {x1: L, x2: L, y1: 1168, y2: Y0, stroke: '#333', 'stroke-width': 4});
  
  
  el = mk(g, 'line', {x1: L - 37, x2: R, y1: Y0, y2: Y0, stroke: '#333', 'stroke-width': 4});
  
  
  cpsTicks.forEach(function (v, i) {
    const t = mk(g, 'line', {x1: L - 37, x2: L, y1: y(v), y2: y(v), stroke: '#444', 'stroke-width': 3});
    
    
    const lab = mk(g, 'text', {x: 2819, y: y(v) + 18, 'font-size': 43, fill: text}, cpsTickLabels[i]);
    
    
  });
  cpsMinorTicks.forEach(function (v) {
    const t = mk(g, 'line', {x1: L - 21, x2: L, y1: y(v), y2: y(v), stroke: '#444', 'stroke-width': 3});
    
    
  });
  keVTicks.forEach(function (v, i) {
    const t = mk(g, 'line', {x1: x(v), x2: x(v), y1: Y0, y2: Y0 + 37, stroke: '#444', 'stroke-width': 3.5});
    
    
    const lab = mk(g, 'text', {x: x(v), y: 2169, 'font-size': 43, 'text-anchor': 'middle', fill: text}, keVTickLabels[i]);
    
    
  });
  keVMinorTicks.forEach(function (v) {
    const t = mk(g, 'line', {x1: x(v), x2: x(v), y1: Y0, y2: Y0 + 22, stroke: '#444', 'stroke-width': 3});
    
    
  });
  el = mk(g, 'text', {x: 2939, y: 1133, 'font-size': 44, fill: text}, 'cps/eV');
  
  
  el = mk(g, 'text', {x: 3798, y: 2213, 'font-size': 43, fill: text}, 'keV');
  
  
})();
</script>
</body>
</html>
